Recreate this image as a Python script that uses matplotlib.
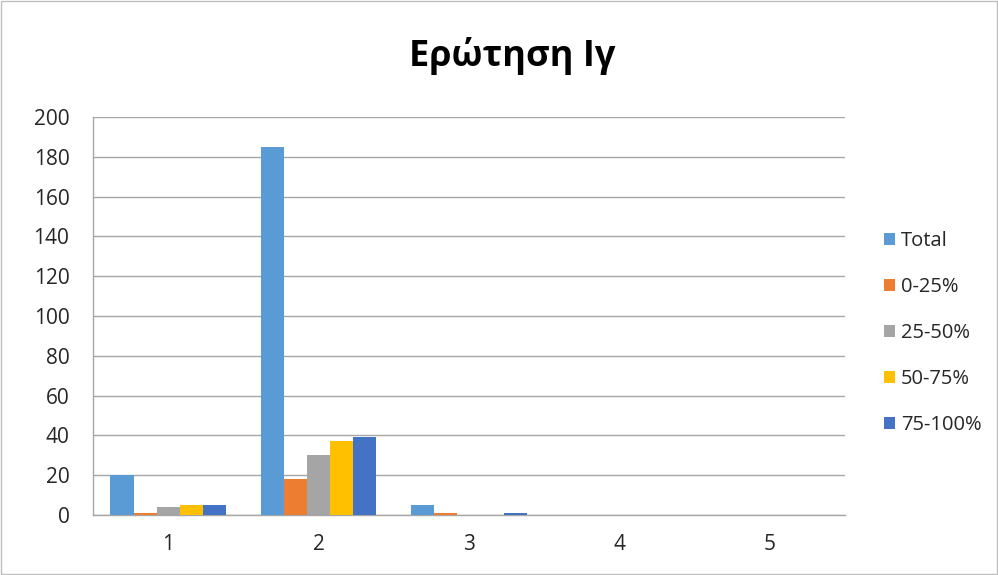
import matplotlib
matplotlib.use("Agg")
import matplotlib.pyplot as plt
import numpy as np

categories = ["1", "2", "3", "4", "5"]
series_names = ["Total", "0-25%", "25-50%", "50-75%", "75-100%"]
total = [20, 185, 5, 0, 0]
q0_25 = [1, 18, 1, 0, 0]
q25_50 = [4, 30, 0, 0, 0]
q50_75 = [5, 37, 0, 0, 0]
q75_100 = [5, 39, 1, 0, 0]
colors = ["#5b9bd5", "#ed7d31", "#a5a5a5", "#ffc000", "#4472c4"]

plt.rcParams['font.family'] = ['Open Sans', 'DejaVu Sans']

fig = plt.figure(figsize=(9.98, 5.75), dpi=100)
ax = fig.add_axes([0.0932, 0.1043, 0.7535, 0.6922])

x = np.arange(len(categories))
bar_w = 1 / 6.5
all_series = [total, q0_25, q25_50, q50_75, q75_100]
for i, (vals, name, c) in enumerate(zip(all_series, series_names, colors)):
    ax.bar(x + (i - 2) * bar_w, vals, bar_w, color=c, label=name, zorder=3)

ax.set_xlim(-0.5, 4.5)
ax.set_ylim(0, 200)
ax.set_yticks(np.arange(0, 201, 20))
ax.set_xticks(x)
ax.set_xticklabels(categories)
ax.yaxis.grid(True, color="#a6a6a6", linewidth=1.0, zorder=0)
ax.tick_params(axis='both', length=0, labelsize=15, colors="#262626")
ax.tick_params(axis='y', pad=17)
ax.tick_params(axis='x', pad=14)
for s in ["top", "right"]:
    ax.spines[s].set_visible(False)
for s in ["left", "bottom"]:
    ax.spines[s].set_color("#a6a6a6")
    ax.spines[s].set_linewidth(1.0)

fig.text(0.513, 0.903, "Ερώτηση Ιγ", ha="center", va="center", fontsize=26, fontweight="bold")

leg = ax.legend(loc="center left", bbox_to_anchor=(1.052, 0.457), frameon=False,
                fontsize=14.5, handlelength=0.55, handleheight=0.55, handletextpad=0.3,
                labelspacing=1.3, borderaxespad=0, borderpad=0, labelcolor="#262626")

# outer border of the chart image
fig.patches.append(plt.Rectangle((0.001, 0.001), 0.998, 0.998, transform=fig.transFigure,
                                 fill=False, edgecolor="#bfbfbf", linewidth=1))

fig.savefig("out.png", dpi=100)
